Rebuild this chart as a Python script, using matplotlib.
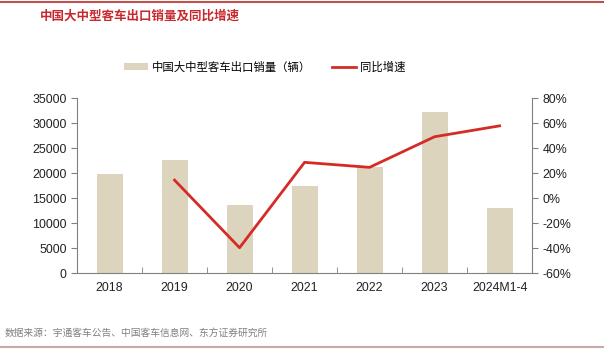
import matplotlib

matplotlib.use("Agg")
import matplotlib.pyplot as plt
from matplotlib.lines import Line2D
from matplotlib.patches import Patch
from matplotlib.ticker import FuncFormatter, FixedLocator
import numpy as np

plt.rcParams["font.family"] = ["Noto Sans CJK SC", "DejaVu Sans"]
NUM_FONT = ["Liberation Sans", "DejaVu Sans"]

CATEGORIES = ["2018", "2019", "2020", "2021", "2022", "2023", "2024M1-4"]
EXPORTS = [19800, 22700, 13600, 17500, 21300, 32200, 13100]
# YoY growth (%), no value for 2018
YOY = [None, 14.6, -39.5, 28.8, 24.8, 49.3, 58.0]

BAR_COLOR = "#DDD4BD"
LINE_COLOR = "#D52B27"
TITLE_COLOR = "#C8282D"

fig = plt.figure(figsize=(6.04, 3.5), dpi=100)
ax = fig.add_axes([0.1275, 0.219, 0.7535, 0.5])
ax2 = ax.twinx()

x = np.arange(len(CATEGORIES))
ax.bar(x, EXPORTS, width=0.4, color=BAR_COLOR, zorder=1)

yx = [i for i, v in zip(x, YOY) if v is not None]
yv = [v for v in YOY if v is not None]
ax2.plot(yx, yv, color=LINE_COLOR, linewidth=2.0)

ax.set_xlim(-0.5, len(CATEGORIES) - 0.5)
ax.set_ylim(0, 35000)
ax.set_yticks(np.arange(0, 35001, 5000))
ax2.set_ylim(-60, 80)
ax2.set_yticks(np.arange(-60, 81, 20))
ax2.yaxis.set_major_formatter(FuncFormatter(lambda v, _: f"{v:.0f}%"))

# category labels centred, ticks on category boundaries
ax.set_xticks(x)
ax.set_xticklabels(CATEGORIES)
ax.tick_params(axis="x", length=0, pad=6)
ax.xaxis.set_minor_locator(FixedLocator(np.arange(-0.5, len(CATEGORIES), 1.0)))
ax.tick_params(axis="x", which="minor", length=4, color="#808080", direction="in")

for a in (ax, ax2):
    a.spines["top"].set_visible(False)
    a.tick_params(labelsize=8.9, colors="#222222")
    for lbl in a.get_xticklabels() + a.get_yticklabels():
        lbl.set_family(NUM_FONT)
ax.spines["right"].set_visible(False)
ax2.spines["left"].set_visible(False)
ax2.spines["bottom"].set_visible(False)
ax.spines["left"].set_color("#808080")
ax.spines["bottom"].set_color("#808080")
ax2.spines["right"].set_color("#808080")
ax.tick_params(axis="y", length=4, color="#808080")
ax2.tick_params(axis="y", length=4, color="#808080")
ax.tick_params(axis="x", which="minor", color="#808080")

handles = [
    Patch(facecolor=BAR_COLOR, edgecolor="none"),
    Line2D([], [], color=LINE_COLOR, linewidth=2.0),
]
fig.legend(
    handles, ["中国大中型客车出口销量（辆）", "同比增速"],
    loc="center", bbox_to_anchor=(0.438, 0.809), ncol=2, frameon=False,
    fontsize=8.2, handlelength=2.1, handleheight=0.55, columnspacing=1.8,
    handletextpad=0.35,
)

fig.text(0.066, 0.955, "中国大中型客车出口销量及同比增速", color=TITLE_COLOR,
         fontsize=9.0, fontweight="bold", va="center", ha="left")
fig.text(0.008, 0.048, "数据来源：宇通客车公告、中国客车信息网、东方证券研究所",
         color="#808080", fontsize=7.0, va="center", ha="left")

fig.add_artist(Line2D([0, 1], [0.994, 0.994], color="#C0504D", linewidth=1.5,
                      transform=fig.transFigure))
fig.add_artist(Line2D([0, 1], [0.008, 0.008], color="#C9A9A6", linewidth=1.5,
                      transform=fig.transFigure))

fig.savefig("out.png", dpi=100)
